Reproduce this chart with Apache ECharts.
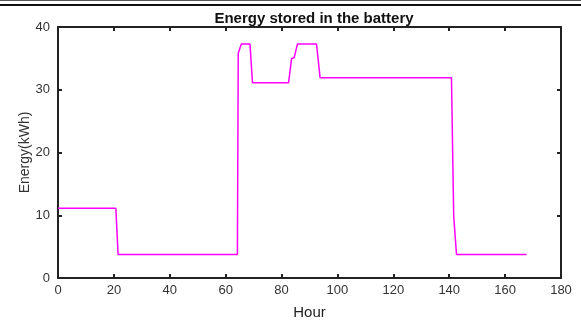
<!DOCTYPE html>
<html>
<head>
<meta charset="utf-8">
<script src="https://cdn.jsdelivr.net/npm/echarts@6/dist/echarts.min.js"></script>
<style>html,body{margin:0;padding:0;background:#fff;}#c{width:581px;height:329px;}</style>
</head>
<body>
<div id="c"></div>
<script>
var titleText = 'Energy stored in the battery';
var xName = 'Hour';
var yName = 'Energy(kWh)';
var hours  = [0, 20.7, 21.5, 64.2, 64.5, 65.6, 68.7, 69.6, 82.5, 83.6, 84.5, 85.7, 92.5, 93.8, 140.8, 141.6, 142.6, 167.7];
var energy = [11.1, 11.1, 3.75, 3.75, 35.8, 37.3, 37.3, 31.1, 31.1, 35.0, 35.1, 37.3, 37.3, 31.9, 31.9, 9.9, 3.75, 3.75];

var pts = hours.map(function (h, i) { return [h, energy[i]]; });
var font = 'Liberation Sans, Arial, sans-serif';
var axisCol = '#222';
var chart = echarts.init(document.getElementById('c'));
function xAx(pos, show) {
  return {
    type: 'value', position: pos, min: 0, max: 180, interval: 20,
    name: show ? xName : '', nameLocation: 'middle', nameGap: 27,
    nameTextStyle: { fontFamily: font, fontSize: 15, color: '#222' },
    axisLine: { show: true, onZero: false, lineStyle: { color: axisCol, width: 2 } },
    axisTick: { show: true, inside: true, length: 4, lineStyle: { color: axisCol, width: 2 } },
    axisLabel: { show: show, margin: 6, fontFamily: font, fontSize: 13, color: '#333' },
    splitLine: { show: false }
  };
}
function yAx(pos, show) {
  return {
    type: 'value', position: pos, min: 0, max: 40, interval: 10,
    name: show ? yName : '', nameLocation: 'middle', nameGap: 26, nameRotate: 90,
    nameMoveOverlap: false,
    nameTextStyle: { fontFamily: font, fontSize: 14, color: '#333' },
    axisLine: { show: true, onZero: false, lineStyle: { color: axisCol, width: 2 } },
    axisTick: { show: true, inside: true, length: 4, lineStyle: { color: axisCol, width: 2 } },
    axisLabel: { show: show, margin: 8, fontFamily: font, fontSize: 13, color: '#333' },
    splitLine: { show: false }
  };
}
chart.setOption({
  animation: false,
  backgroundColor: '#fff',
  title: { text: titleText, left: 309, textAlign: 'center', top: 6,
    textStyle: { fontFamily: font, fontSize: 15, fontWeight: 'bold', color: '#111' } },
  grid: { left: 58, right: 20, top: 27, bottom: 51, containLabel: false },
  xAxis: [xAx('bottom', true), xAx('top', false)],
  yAxis: [yAx('left', true), yAx('right', false)],
  graphic: [
    { type: 'rect', shape: { x: 0, y: 0, width: 581, height: 1 }, style: { fill: '#555' } },
    { type: 'rect', shape: { x: 0, y: 4, width: 581, height: 2 }, style: { fill: '#111' } }
  ],
  series: [{
    type: 'line', xAxisIndex: 0, yAxisIndex: 0, data: pts, showSymbol: false,
    lineStyle: { color: '#ff00ff', width: 1.5 }
  }]
});
</script>
</body>
</html>
